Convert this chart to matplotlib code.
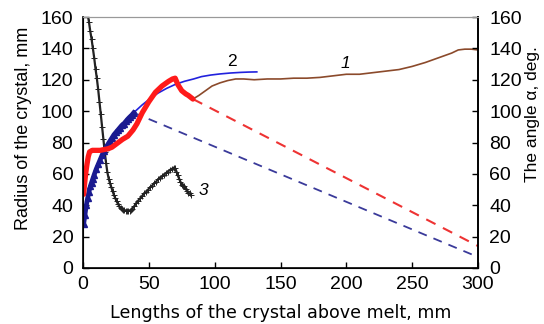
import matplotlib
matplotlib.use("Agg")
import matplotlib.pyplot as plt

plt.rcParams['font.family'] = ['Liberation Sans', 'DejaVu Sans']

# Curve 3 (black, + markers)
x3 = [3.5, 4.5, 5.5, 6.5, 7.5, 8.5, 9.5, 10.5, 11.5, 12.5, 13.5, 14.5, 15.5, 16.5, 17.5, 18.5, 19.5,
      20.5, 21.5, 22.5, 23.5, 24.5, 25.5, 26.5, 27.5, 28.5, 29.5, 30.5, 31.5, 32.5, 33.5, 34.5, 35.5,
      36.5, 37.5, 39, 40.5, 42, 43.5, 45, 46.5, 48, 49.5, 51, 52.5, 54, 55.5, 57, 58.5, 60, 61.5, 63,
      64.5, 66, 67.5, 69, 70, 71, 72, 73, 74, 75, 76, 77, 78, 79, 80, 81, 82]
y3 = [162, 157, 151, 146, 140, 134, 127, 121, 114, 106, 98, 90, 82, 74, 67, 61, 57,
      54, 51.5, 49, 46.5, 44.5, 42.5, 41, 39.5, 38.5, 37.7, 37.2, 36.8, 36.5, 36.3, 36.3, 36.6,
      37, 37.8, 39.5, 41.5, 43, 44.5, 46, 47.5, 48.5, 50, 51.5, 52.5, 54, 55, 56.5, 57.5, 58.5, 59.5, 60.5,
      61.5, 62.5, 63.2, 64, 63.5, 61.5, 59, 57, 55, 53, 52.5, 52, 50.5, 49, 48, 47.5, 46.5]

# Red thick curve
xr = [0.5, 1, 2, 3, 4, 5, 7, 10, 13, 16, 19, 22, 26, 30, 34, 38, 41, 45, 50, 55, 60, 65, 68, 70,
      72, 75, 78, 80, 83.5]
yr = [47, 52, 60, 66, 71, 74, 75, 75, 75, 75.5, 76, 77, 79.5, 82, 84, 88, 92, 99, 106, 112, 116,
      119, 120.5, 121, 117, 113, 111, 110, 107.7]

# Blue thick segment (triangles)
xb = [0.5, 1.5, 2.5, 3.5, 4.5, 5.5, 6.5, 7.5, 8.5, 10, 11.5, 13, 14.5, 16, 17.5, 19, 20.5, 22,
      23.5, 25, 26.5, 28, 29.5, 31, 32.5, 34, 35.5, 37, 38.5]
yb = [28, 34, 40, 44.5, 48.5, 52, 54.5, 57, 59.5, 63, 66, 69, 72, 74.5, 77, 79, 81, 83,
      85, 86.5, 88, 89.5, 91, 92, 93.5, 95, 96.3, 97.5, 99]

# Blue thin continuation (curve 2)
xb2 = [38.5, 45, 51, 57, 63.5, 70, 77, 84, 90, 97, 104, 112, 120, 126, 132]
yb2 = [99, 104, 108, 111.5, 114.5, 117, 119, 120.5, 122, 123, 123.7, 124.3, 124.7, 124.9, 125]

# Dashed extrapolations
xbd = [38.5, 300]
ybd = [99, 7]
xrd = [83.5, 300]
yrd = [107.7, 14]

# Brown curve 1
x1 = [83.5, 88, 93, 98, 104, 110, 116, 122, 130, 140, 150, 160, 170, 180, 190, 200, 210, 220,
      230, 240, 250, 260, 270, 280, 285, 290, 295, 300]
y1 = [107.7, 110, 113, 116, 118, 119.5, 120.5, 120.5, 120, 120.5, 120.5, 121, 121, 121.5, 122.5,
      123.5, 123.5, 124.5, 125.5, 126.5, 128.5, 131, 134, 137, 139, 139.5, 139.5, 139]

xticks = [0, 50, 100, 150, 200, 250, 300]
yticks = [0, 20, 40, 60, 80, 100, 120, 140, 160]

W, H = 544, 324
fig = plt.figure(figsize=(W / 100, H / 100), dpi=100)
ax = fig.add_axes([83 / W, 1 - 268 / H, 395 / W, 251 / H])

ax.plot(xbd, ybd, color='#3a3a9a', lw=1.3, dashes=(5, 4))
ax.plot(xrd, yrd, color='#ee3333', lw=1.5, dashes=(5, 4))
ax.plot(x1, y1, color='#8b4a2b', lw=1.2)
ax.plot(xb2, yb2, color='#2222dd', lw=1.2)
ax.plot(x3, y3, color='#222222', lw=1.6, marker='+', ms=4, mew=0.7)
ax.plot(xb, yb, color='#1a1a90', lw=3.4, marker='^', ms=4)
ax.plot(xr, yr, color='#ff1a1a', lw=3.8, solid_capstyle='round')

ax.text(199, 130.5, '1', fontsize=12.5, style='italic', ha='center', va='center')
ax.text(113, 131.5, '2', fontsize=12.5, ha='center', va='center')
ax.text(91.5, 49.5, '3', fontsize=12.5, style='italic', ha='center', va='center')

ax.set_xlim(0, 300)
ax.set_ylim(0, 160)
ax.set_xticks(xticks)
ax.set_yticks(yticks)
ax.tick_params(direction='in', length=4, labelsize=14, width=1)
ax.tick_params(axis='x', pad=6)
ax.tick_params(axis='y', pad=7)
ax.spines['top'].set_color('#999999')
for s in ['left', 'bottom', 'right']:
    ax.spines[s].set_linewidth(1.2)

ax2 = ax.twinx()
ax2.set_ylim(0, 160)
ax2.set_yticks(yticks)
ax2.tick_params(direction='in', length=4, labelsize=14, width=1, pad=8)
ax2.spines['top'].set_color('#999999')
ax2.spines['right'].set_linewidth(1.2)

fig.text(281 / W, 1 - 318.3 / H, 'Lengths of the crystal above melt, mm', fontsize=12.6,
         family=['DejaVu Sans'], ha='center', va='baseline')
fig.text(23.5 / W, 1 - 128.5 / H, 'Radius of the crystal, mm', fontsize=13,
         rotation=90, ha='center', va='center')
fig.text(532 / W, 1 - 114 / H, 'The angle α, deg.', fontsize=12.5,
         rotation=90, ha='center', va='center')

fig.savefig('out.png', dpi=100)
